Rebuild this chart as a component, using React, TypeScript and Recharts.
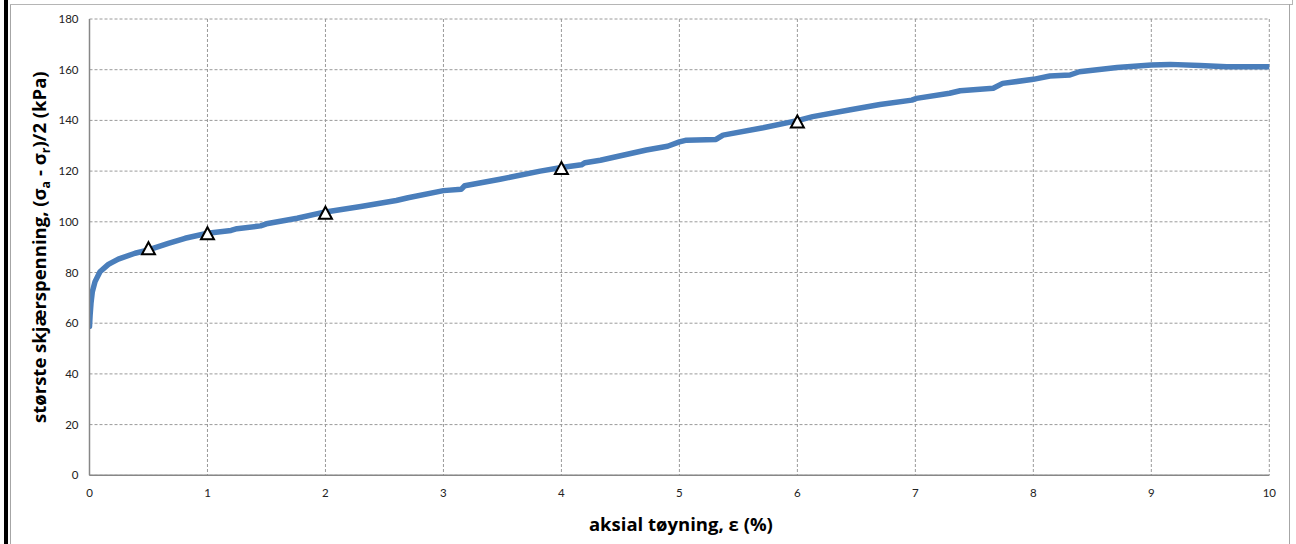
import {
  CartesianGrid,
  ComposedChart,
  Line,
  Scatter,
  XAxis,
  YAxis,
} from "recharts";

// aksial tøyning (%) og største skjærspenning (kPa), lest av kurven
const strainValues = [
  0, 0.005, 0.013, 0.024, 0.047, 0.089, 0.16, 0.244, 0.386, 0.5, 0.668, 0.81,
  1.0, 1.2, 1.25, 1.45, 1.5, 1.76, 2.0, 2.3, 2.6, 2.7, 3.0, 3.15, 3.18, 3.48,
  3.82, 4.0, 4.17, 4.2, 4.33, 4.72, 4.9, 5.0, 5.06, 5.31, 5.37, 5.71, 6.0,
  6.13, 6.45, 6.7, 6.97, 7.01, 7.29, 7.38, 7.66, 7.74, 8.0, 8.14, 8.31, 8.39,
  8.71, 9.0, 9.16, 9.41, 9.64, 10.0,
];
const stressValues = [
  58.8, 63, 68, 72.4, 76.4, 80.3, 83.2, 85.3, 87.6, 88.9, 91.5, 93.5, 95.5,
  96.6, 97.3, 98.4, 99.2, 101.4, 103.9, 106, 108.4, 109.5, 112.3, 112.8, 114.2,
  116.8, 120, 121.4, 122.5, 123.3, 124.3, 128.3, 129.8, 131.5, 132.2, 132.5,
  134.2, 137.1, 139.9, 141.5, 144.2, 146.3, 148.0, 148.7, 150.7, 151.7, 152.7,
  154.6, 156.2, 157.5, 157.9, 159.2, 160.9, 161.9, 162.1, 161.7, 161.2, 161.2,
];

// trekantmarkører
const markerStrain = [0.5, 1, 2, 4, 6];
const markerStress = [89.6, 95.5, 103.6, 121.2, 139.6];

const xTicks = [0, 1, 2, 3, 4, 5, 6, 7, 8, 9, 10];
const yTicks = [0, 20, 40, 60, 80, 100, 120, 140, 160, 180];

const curve = strainValues.map((x, i) => ({ x, y: stressValues[i] }));
const markers = markerStrain.map((x, i) => ({ x, y: markerStress[i] }));

const FONT = "Lato, 'Open Sans', sans-serif";
const TITLE_FONT = "'Open Sans', Lato, sans-serif";
const GRID = "#9a9a9a";
const AXIS = "#878787";

function Triangle(props: any) {
  const { cx, cy } = props;
  if (cx == null || cy == null) return null;
  const w = 6.5;
  const h = 6;
  return (
    <path
      d={`M${cx},${cy - h} L${cx + w},${cy + h} L${cx - w},${cy + h} Z`}
      fill="#fff"
      stroke="#000"
      strokeWidth={2}
      strokeLinejoin="miter"
    />
  );
}

function YTitle(props: any) {
  const { viewBox } = props;
  const cy = viewBox.y + viewBox.height / 2;
  return (
    <text
      transform={`translate(45.5,${cy}) rotate(-90)`}
      textAnchor="middle"
      fontFamily={TITLE_FONT}
      fontWeight={700}
      fontSize={18.5}
      fill="#000"
    >
      største skjærspenning, (σ
      <tspan dy={4} fontSize={12.5}>a</tspan>
      <tspan dy={-4}> - σ</tspan>
      <tspan dy={4} fontSize={12.5}>r</tspan>
      <tspan dy={-4}>)/2 (kPa)</tspan>
    </text>
  );
}

function XTitle(props: any) {
  const { viewBox } = props;
  const cx = viewBox.x + viewBox.width / 2 + 1.5;
  return (
    <text
      x={cx}
      y={531}
      textAnchor="middle"
      fontFamily={TITLE_FONT}
      fontWeight={700}
      fontSize={18.5}
      fill="#000"
    >
      aksial tøyning, ε (%)
    </text>
  );
}

export default function App() {
  return (
    <div
      style={{
        position: "fixed",
        top: 0,
        left: 0,
        width: 1296,
        height: 544,
        background: "#fff",
        overflow: "hidden",
      }}
    >
      <div style={{ position: "absolute", left: 4, top: 0, width: 4, height: 544, background: "#000" }} />
      <div style={{ position: "absolute", left: 10, top: 4, width: 1, height: 540, background: "#a6a6a6" }} />
      <div style={{ position: "absolute", left: 10, top: 4, width: 1283, height: 1, background: "#b5b5b5" }} />
      <div style={{ position: "absolute", left: 1289, top: 4, width: 1, height: 540, background: "#a6a6a6" }} />
      <div style={{ position: "absolute", left: 1292, top: 0, width: 1, height: 5, background: "#b5b5b5" }} />
      <div style={{ position: "absolute", left: 0, top: 0 }}>
        <ComposedChart
          width={1296}
          height={544}
          margin={{ top: 19, right: 26.7, bottom: 38.7, left: 29.5 }}
        >
          <CartesianGrid
            stroke={GRID}
            strokeDasharray="3 2"
            horizontalValues={yTicks}
            verticalValues={xTicks}
          />
          <XAxis
            type="number"
            dataKey="x"
            domain={[0, 10]}
            ticks={xTicks}
            allowDataOverflow
            height={30}
            axisLine={{ stroke: AXIS, strokeWidth: 1.5 }}
            tickLine={false}
            tickSize={0}
            tickMargin={14}
            tick={{ fontFamily: FONT, fontSize: 11.5, fill: "#222" }}
            label={<XTitle />}
          />
          <YAxis
            type="number"
            dataKey="y"
            domain={[0, 180]}
            ticks={yTicks}
            allowDataOverflow
            width={60}
            axisLine={{ stroke: AXIS, strokeWidth: 1.5 }}
            tickLine={false}
            tickSize={0}
            tickMargin={11}
            tick={{ fontFamily: FONT, fontSize: 11.5, fill: "#222" }}
            label={<YTitle />}
          />
          <Line
            data={curve}
            dataKey="y"
            type="linear"
            stroke="#4a7ebb"
            strokeWidth={5.5}
            strokeLinejoin="round"
            strokeLinecap="round"
            dot={false}
            activeDot={false}
            isAnimationActive={false}
          />
          <Scatter
            data={markers}
            dataKey="y"
            shape={<Triangle />}
            isAnimationActive={false}
          />
        </ComposedChart>
      </div>
    </div>
  );
}
